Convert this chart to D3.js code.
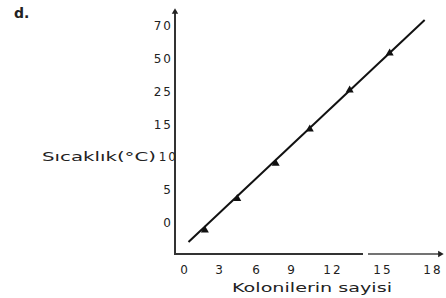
<!DOCTYPE html>
<html>
<head>
<meta charset="utf-8">
<script src="https://cdn.jsdelivr.net/npm/d3@7"></script>
<style>
  body { margin: 0; background: #fff; }
  svg text { font-family: "DejaVu Sans", sans-serif; fill: #222; }
</style>
</head>
<body>
<div id="chart"></div>
<script>
// tick labels (the printed axes are not to scale)
var xTicks = [0, 3, 6, 9, 12, 15, 18];
var yTicks = [0, 5, 10, 15, 25, 50, 70];

// measured points: number of colonies vs temperature
var colonies = [1.7, 4.4, 7.6, 10.3, 13.0, 15.4];
var temps = [-1.1, 3.7, 9.1, 14.3, 26.3, 53.6];

// fitted line end points
var lineX = [0.3, 17.5];
var lineY = [-2.9, 73.8];

var width = 446, height = 298;
var axisX = 175, axisY = 254;

var svg = d3.select("#chart").append("svg")
    .attr("width", width)
    .attr("height", height);

// piecewise scales so the uneven tick spacing of the print is kept
var xScale = d3.scaleLinear()
    .domain(xTicks)
    .range([185, 220, 257, 292, 333, 383, 433]);

var yStep = 32.8;
var yScale = d3.scaleLinear()
    .domain(yTicks)
    .range(yTicks.map((d, i) => 223 - i * yStep));

// axes
svg.append("line")
    .attr("x1", axisX).attr("x2", axisX)
    .attr("y1", 13).attr("y2", axisY)
    .attr("stroke", "#333").attr("stroke-width", 2);

svg.append("line")
    .attr("x1", axisX - 1).attr("x2", 363)
    .attr("y1", axisY).attr("y2", axisY)
    .attr("stroke", "#333").attr("stroke-width", 2);
svg.append("line")
    .attr("x1", 368).attr("x2", 440)
    .attr("y1", axisY).attr("y2", axisY)
    .attr("stroke", "#444").attr("stroke-width", 1.6);

// arrow heads
svg.append("path")
    .attr("d", d3.symbol().type(d3.symbolTriangle).size(18)())
    .attr("transform", `translate(${axisX},12)`)
    .attr("fill", "#222");
svg.append("path")
    .attr("d", d3.symbol().type(d3.symbolTriangle).size(18)())
    .attr("transform", `translate(440,${axisY}) rotate(90)`)
    .attr("fill", "#222");

// tick labels
svg.selectAll(".xtick")
    .data(xTicks)
    .enter().append("text")
    .attr("class", "xtick")
    .attr("x", d => xScale(d))
    .attr("y", 274)
    .attr("text-anchor", "middle")
    .style("font-size", "12px")
    .style("letter-spacing", "2px")
    .text(d => d);

svg.selectAll(".ytick")
    .data(yTicks)
    .enter().append("text")
    .attr("class", "ytick")
    .attr("x", d => d === 10 ? 178 : 173)
    .attr("y", d => yScale(d) + 4)
    .attr("text-anchor", "end")
    .style("font-size", "12px")
    .style("letter-spacing", "2px")
    .text(d => d);

// axis titles
svg.append("text")
    .attr("x", 232)
    .attr("y", 292)
    .attr("textLength", 160)
    .attr("lengthAdjust", "spacingAndGlyphs")
    .style("font-size", "12px")
    .text("Kolonilerin sayisi");

svg.append("text")
    .attr("x", 42)
    .attr("y", yScale(10) + 4)
    .attr("textLength", 114)
    .attr("lengthAdjust", "spacingAndGlyphs")
    .style("font-size", "11.5px")
    .text("Sıcaklık(°C)");

svg.append("text")
    .attr("x", 14)
    .attr("y", 18)
    .style("font-size", "14px")
    .style("font-weight", "bold")
    .text("d.");

// fitted line
var line = d3.line()
    .x(d => xScale(d[0]))
    .y(d => yScale(d[1]));

svg.append("path")
    .datum(d3.zip(lineX, lineY))
    .attr("d", line)
    .attr("fill", "none")
    .attr("stroke", "#111")
    .attr("stroke-width", 2);

// markers
svg.selectAll(".pt")
    .data(d3.zip(colonies, temps))
    .enter().append("path")
    .attr("class", "pt")
    .attr("d", d3.symbol().type(d3.symbolTriangle).size(28)())
    .attr("transform", d => `translate(${xScale(d[0])},${yScale(d[1])})`)
    .attr("fill", "#111");
</script>
</body>
</html>
